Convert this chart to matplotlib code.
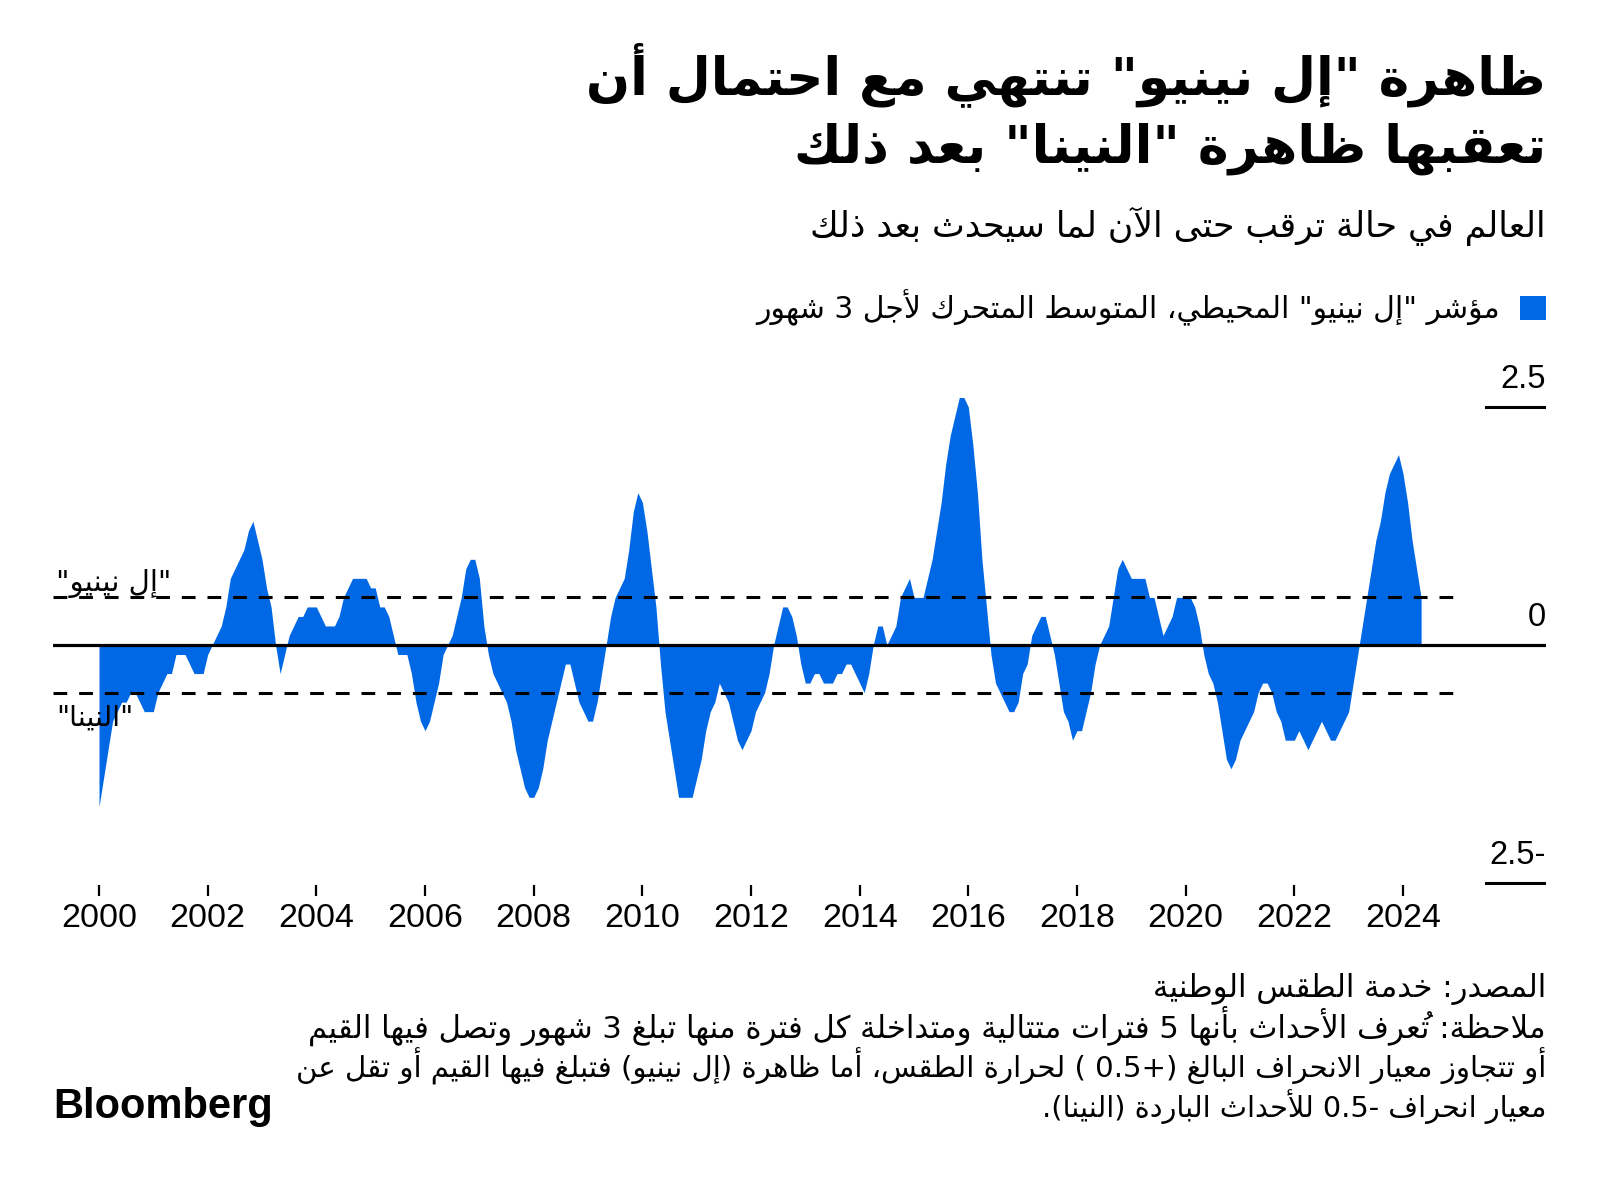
import re
import numpy as np
import matplotlib
matplotlib.use("Agg")
import matplotlib.pyplot as plt
from matplotlib.patches import Rectangle
from matplotlib.transforms import blended_transform_factory, offset_copy

# ---------------- data (ONI, 3-month running mean, monthly) ----------------
start_year = 2000
oni_2000 = [-1.7, -1.4, -1.1, -0.8, -0.7, -0.6, -0.6, -0.5, -0.5, -0.6, -0.7, -0.7]
oni_2001 = [-0.7, -0.5, -0.4, -0.3, -0.3, -0.1, -0.1, -0.1, -0.2, -0.3, -0.3, -0.3]
oni_2002 = [-0.1, 0.0, 0.1, 0.2, 0.4, 0.7, 0.8, 0.9, 1.0, 1.2, 1.3, 1.1]
oni_2003 = [0.9, 0.6, 0.4, 0.0, -0.3, -0.1, 0.1, 0.2, 0.3, 0.3, 0.4, 0.4]
oni_2004 = [0.4, 0.3, 0.2, 0.2, 0.2, 0.3, 0.5, 0.6, 0.7, 0.7, 0.7, 0.7]
oni_2005 = [0.6, 0.6, 0.4, 0.4, 0.3, 0.1, -0.1, -0.1, -0.1, -0.3, -0.6, -0.8]
oni_2006 = [-0.9, -0.8, -0.6, -0.4, -0.1, 0.0, 0.1, 0.3, 0.5, 0.8, 0.9, 0.9]
oni_2007 = [0.7, 0.2, -0.1, -0.3, -0.4, -0.5, -0.6, -0.8, -1.1, -1.3, -1.5, -1.6]
oni_2008 = [-1.6, -1.5, -1.3, -1.0, -0.8, -0.6, -0.4, -0.2, -0.2, -0.4, -0.6, -0.7]
oni_2009 = [-0.8, -0.8, -0.6, -0.3, 0.0, 0.3, 0.5, 0.6, 0.7, 1.0, 1.4, 1.6]
oni_2010 = [1.5, 1.2, 0.8, 0.4, -0.2, -0.7, -1.0, -1.3, -1.6, -1.6, -1.6, -1.6]
oni_2011 = [-1.4, -1.2, -0.9, -0.7, -0.6, -0.4, -0.5, -0.6, -0.8, -1.0, -1.1, -1.0]
oni_2012 = [-0.9, -0.7, -0.6, -0.5, -0.3, 0.0, 0.2, 0.4, 0.4, 0.3, 0.1, -0.2]
oni_2013 = [-0.4, -0.4, -0.3, -0.3, -0.4, -0.4, -0.4, -0.3, -0.3, -0.2, -0.2, -0.3]
oni_2014 = [-0.4, -0.5, -0.3, 0.0, 0.2, 0.2, 0.0, 0.1, 0.2, 0.5, 0.6, 0.7]
oni_2015 = [0.5, 0.5, 0.5, 0.7, 0.9, 1.2, 1.5, 1.9, 2.2, 2.4, 2.6, 2.6]
oni_2016 = [2.5, 2.1, 1.6, 0.9, 0.4, -0.1, -0.4, -0.5, -0.6, -0.7, -0.7, -0.6]
oni_2017 = [-0.3, -0.2, 0.1, 0.2, 0.3, 0.3, 0.1, -0.1, -0.4, -0.7, -0.8, -1.0]
oni_2018 = [-0.9, -0.9, -0.7, -0.5, -0.2, 0.0, 0.1, 0.2, 0.5, 0.8, 0.9, 0.8]
oni_2019 = [0.7, 0.7, 0.7, 0.7, 0.5, 0.5, 0.3, 0.1, 0.2, 0.3, 0.5, 0.5]
oni_2020 = [0.5, 0.5, 0.4, 0.2, -0.1, -0.3, -0.4, -0.6, -0.9, -1.2, -1.3, -1.2]
oni_2021 = [-1.0, -0.9, -0.8, -0.7, -0.5, -0.4, -0.4, -0.5, -0.7, -0.8, -1.0, -1.0]
oni_2022 = [-1.0, -0.9, -1.0, -1.1, -1.0, -0.9, -0.8, -0.9, -1.0, -1.0, -0.9, -0.8]
oni_2023 = [-0.7, -0.4, -0.1, 0.2, 0.5, 0.8, 1.1, 1.3, 1.6, 1.8, 1.9, 2.0]
oni_2024 = [1.8, 1.5, 1.1, 0.8, 0.5]

tick_years = [2000, 2002, 2004, 2006, 2008, 2010, 2012, 2014, 2016, 2018, 2020, 2022, 2024]
tick_labels = [str(y) for y in tick_years]
y_levels = [2.5, 0, -2.5]
y_labels = ["2.5", "0", "2.5-"]
threshold = 0.5

title_l1 = 'ظاهرة "إل نينيو" تنتهي مع احتمال أن'
title_l2 = 'تعقبها ظاهرة "النينا" بعد ذلك'
subtitle = 'العالم في حالة ترقب حتى الآن لما سيحدث بعد ذلك'
legend_label = 'مؤشر "إل نينيو" المحيطي، المتوسط المتحرك لأجل 3 شهور'
label_nino = '"إل نينيو"'
label_nina = '"النينا"'
note_1 = 'المصدر: خدمة الطقس الوطنية'
note_2 = 'ملاحظة: تُعرف الأحداث بأنها 5 فترات متتالية ومتداخلة كل فترة منها تبلغ 3 شهور وتصل فيها القيم'
note_3 = 'أو تتجاوز معيار الانحراف البالغ (+0.5 ) لحرارة الطقس، أما ظاهرة (إل نينيو) فتبلغ فيها القيم أو تقل عن'
note_4 = 'معيار انحراف -0.5 للأحداث الباردة (النينا).'

# ---------------- minimal Arabic shaping + RTL ordering ----------------
_FORMS = {}
_base = 0xFE80
for _cp, _n in [(0x0621, 1), (0x0622, 2), (0x0623, 2), (0x0624, 2), (0x0625, 2), (0x0626, 4),
                (0x0627, 2), (0x0628, 4), (0x0629, 2), (0x062A, 4), (0x062B, 4), (0x062C, 4),
                (0x062D, 4), (0x062E, 4), (0x062F, 2), (0x0630, 2), (0x0631, 2), (0x0632, 2),
                (0x0633, 4), (0x0634, 4), (0x0635, 4), (0x0636, 4), (0x0637, 4), (0x0638, 4),
                (0x0639, 4), (0x063A, 4), (0x0641, 4), (0x0642, 4), (0x0643, 4), (0x0644, 4),
                (0x0645, 4), (0x0646, 4), (0x0647, 4), (0x0648, 2), (0x0649, 2), (0x064A, 4)]:
    _FORMS[chr(_cp)] = ([chr(_base + k) for k in range(_n)], _n)
    _base += _n
_LAMALEF = {'آ': (0xFEF5, 0xFEF6), 'أ': (0xFEF7, 0xFEF8), 'إ': (0xFEF9, 0xFEFA), 'ا': (0xFEFB, 0xFEFC)}
_MIRROR = {'(': ')', ')': '(', '[': ']', ']': '[', '«': '»', '»': '«'}


def _is_mark(c):
    o = ord(c)
    return 0x064B <= o <= 0x065F or o == 0x0670


def _shape(s):
    ch = list(s)
    n = len(ch)

    def prev_joins(i):
        j = i - 1
        while j >= 0 and _is_mark(ch[j]):
            j -= 1
        return j >= 0 and ch[j] in _FORMS and _FORMS[ch[j]][1] == 4

    def next_idx(i):
        j = i + 1
        while j < n and _is_mark(ch[j]):
            j += 1
        return j if j < n else None

    out = []
    i = 0
    while i < n:
        c = ch[i]
        if c == 'ل':
            j = next_idx(i)
            if j is not None and ch[j] in _LAMALEF:
                iso, fin = _LAMALEF[ch[j]]
                out.append(chr(fin if prev_joins(i) else iso))
                out.extend(ch[i + 1:j])
                i = j + 1
                continue
        if c in _FORMS:
            forms, t = _FORMS[c]
            jp = t > 1 and prev_joins(i)
            j = next_idx(i)
            jn = t == 4 and j is not None and ch[j] in _FORMS and _FORMS[ch[j]][1] > 1
            idx = 3 if (jp and jn) else 1 if jp else 2 if jn else 0
            out.append(forms[idx])
        else:
            out.append(c)
        i += 1
    return ''.join(out)


def ar(s):
    shaped = _shape(s)
    toks = re.findall(r'[0-9A-Za-z]+(?:\.[0-9]+)*|.[\u064B-\u065F\u0670]*', shaped, flags=re.S)
    res = []
    for t in reversed(toks):
        if re.match(r'[0-9A-Za-z]', t):
            res.append(t)
        else:
            res.append(_MIRROR.get(t, t[::-1]))
    return ''.join(res)


# ---------------- figure ----------------
W, H = 1600, 1182
BLUE = '#0068e5'
fig = plt.figure(figsize=(16, 11.82), dpi=100)
fig.patch.set_facecolor('white')

ax_l, ax_r, ax_t, ax_b = 53, 1546, 370, 885
ax = fig.add_axes([ax_l / W, 1 - ax_b / H, (ax_r - ax_l) / W, (ax_b - ax_t) / H])

values = np.array(oni_2000 + oni_2001 + oni_2002 + oni_2003 + oni_2004 + oni_2005 + oni_2006 +
                  oni_2007 + oni_2008 + oni_2009 + oni_2010 + oni_2011 + oni_2012 + oni_2013 +
                  oni_2014 + oni_2015 + oni_2016 + oni_2017 + oni_2018 + oni_2019 + oni_2020 +
                  oni_2021 + oni_2022 + oni_2023 + oni_2024)
months = start_year + np.arange(len(values)) / 12.0

ppy = (1403 - 99) / 24.0
ax.set_xlim(2000 - (99 - ax_l) / ppy, 2000 + (ax_r - 99) / ppy)
ppu = 95.2
ax.set_ylim(-(ax_b - 645) / ppu, (645 - ax_t) / ppu)

ax.fill_between(months, 0, values, color=BLUE, lw=0, zorder=2)

ax.axhline(0, color='black', lw=2.3, zorder=4)
frac_dash = (1453 - ax_l) / (ax_r - ax_l)
for lvl in (threshold, -threshold):
    ax.axhline(lvl, xmin=0, xmax=frac_dash, color='black', lw=2.2,
               linestyle=(0, (4.5, 3.9)), zorder=4)
frac_short = (1486 - ax_l) / (ax_r - ax_l)
for lvl in (y_levels[0], y_levels[2]):
    ax.axhline(lvl, xmin=frac_short, xmax=1, color='black', lw=2.2, zorder=4)

for s in ax.spines.values():
    s.set_visible(False)
ax.set_yticks([])
ax.set_xticks(tick_years)
ax.set_xticklabels(tick_labels, fontfamily='Liberation Sans', fontsize=24.5)
ax.tick_params(axis='x', length=8, width=1.6, pad=5, color='black')

trans = blended_transform_factory(ax.transAxes, ax.transData)
for lvl, lab in zip(y_levels, y_labels):
    ax.text(1.0, lvl, lab, transform=offset_copy(trans, fig=fig, x=0, y=14, units='points'),
            ha='right', va='baseline', fontsize=23.5, fontfamily='Liberation Sans', color='black')

# ---------------- text helpers ----------------
fig.canvas.draw()
renderer = fig.canvas.get_renderer()


def put(x, baseline, text, width, size0, ha='right', **kw):
    t = fig.text(x / W, 1 - baseline / H, ar(text), ha=ha, va='baseline',
                 fontsize=size0, fontfamily='DejaVu Sans', color='black', **kw)
    w = t.get_window_extent(renderer).width
    t.set_fontsize(size0 * width / w)
    return t


# threshold labels (just above / below the dashed lines)
put(56, 591, label_nino, 115, 20, ha='left')
put(56, 726, label_nina, 77, 20, ha='left')

put(1546, 94, title_l1, 959, 40, fontweight='bold')
put(1546, 163, title_l2, 752, 40, fontweight='bold')
put(1546, 237, subtitle, 740, 24)
put(1500, 318, legend_label, 743, 20)
fig.add_artist(Rectangle((1520 / W, 1 - 320 / H), 26 / W, 24 / H, transform=fig.transFigure,
                         facecolor=BLUE, edgecolor='none'))

put(1546, 997, note_1, 393, 20)
put(1546, 1038, note_2, 1237, 20)
put(1546, 1078, note_3, 1255, 20)
put(1546, 1117, note_4, 505, 20)

fig.text(53 / W, 1 - 1118 / H, 'Bloomberg', ha='left', va='baseline', fontsize=30,
         fontweight='bold', fontfamily='Liberation Sans', color='black')

fig.savefig('out.png', dpi=100, facecolor='white')
